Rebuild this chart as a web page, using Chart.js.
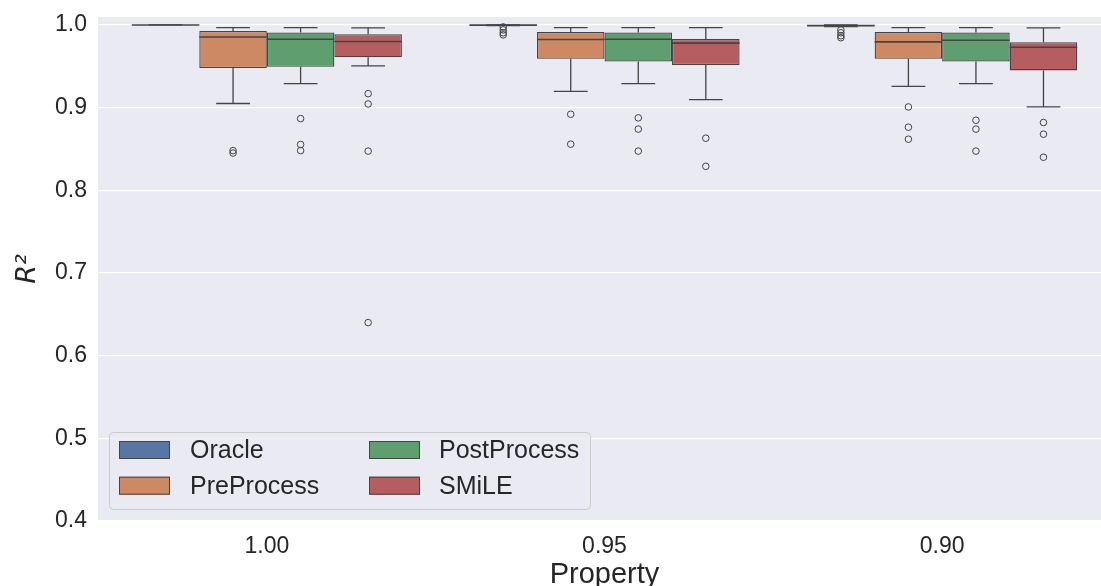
<!DOCTYPE html>
<html>
<head>
<meta charset="utf-8">
<script src="https://cdn.jsdelivr.net/npm/chart.js@4.4.0/dist/chart.umd.min.js"></script>
<style>
  html, body { margin: 0; padding: 0; background: #fff; overflow: hidden; }
  .wrap { width: 1112px; height: 586px; position: relative; }
</style>
</head>
<body>
<div class="wrap"><canvas id="chart"></canvas></div>
<script>
const properties = ['1.00', '0.95', '0.90'];
const methods = ['Oracle', 'PreProcess', 'PostProcess', 'SMiLE'];
const boxColors = ['#5875a4', '#cc8963', '#5f9e6e', '#b55d60'];

// [lower whisker, q1, median, q3, upper whisker] for each property
const oracleStats = [[1.0, 1.0, 1.0, 1.0, 1.0], [0.9992, 0.9996, 0.9998, 1.0, 1.0], [0.998, 0.9985, 0.9992, 0.9997, 1.0]];
const preStats = [[0.905, 0.948, 0.9855, 0.9928, 0.9968], [0.9197, 0.959, 0.9823, 0.9916, 0.9968], [0.9257, 0.959, 0.9795, 0.9916, 0.9968]];
const postStats = [[0.929, 0.9494, 0.9827, 0.991, 0.9968], [0.929, 0.9558, 0.9827, 0.991, 0.9968], [0.929, 0.9558, 0.9815, 0.991, 0.9968]];
const smileStats = [[0.9506, 0.961, 0.980, 0.9888, 0.9964], [0.9096, 0.9514, 0.978, 0.9831, 0.9968], [0.9008, 0.945, 0.9731, 0.979, 0.9964]];

// outliers for each property
const oracleOut = [[], [0.9976, 0.994, 0.9905, 0.988], [0.994, 0.9905, 0.987, 0.9845]];
const preOut = [[0.848, 0.845], [0.892, 0.8558], [0.9008, 0.8763, 0.8618]];
const postOut = [[0.8867, 0.8554, 0.848], [0.8876, 0.874, 0.8474], [0.8847, 0.874, 0.8474]];
const smileOut = [[0.9169, 0.9044, 0.8474, 0.640], [0.863, 0.829], [0.882, 0.8679, 0.840]];

const yTicks = [0.4, 0.5, 0.6, 0.7, 0.8, 0.9, 1.0];

const lineColor = '#444444';
const textColor = '#262626';

const allStats = [oracleStats, preStats, postStats, smileStats];
const allOut = [oracleOut, preOut, postOut, smileOut];

const datasets = methods.map((m, k) => ({
  label: m,
  data: allStats[k].map(s => [s[1], s[3]]),
  stats: allStats[k],
  outliers: allOut[k],
  backgroundColor: boxColors[k],
  borderColor: lineColor,
  borderWidth: 1.3,
  borderSkipped: false,
  categoryPercentage: 0.8,
  barPercentage: 1.0
}));

/* background, whiskers, medians, outliers, legend */
const boxPlotParts = {
  id: 'boxPlotParts',
  beforeDraw(chart) {
    const { ctx, chartArea: a } = chart;
    ctx.save();
    ctx.fillStyle = '#eaeaf2';
    ctx.fillRect(a.left, a.top, a.right - a.left, a.bottom - a.top);
    ctx.restore();
  },
  afterDatasetsDraw(chart) {
    const { ctx } = chart;
    const y = chart.scales.y;
    ctx.save();
    ctx.strokeStyle = lineColor;
    ctx.lineWidth = 1.3;
    chart.data.datasets.forEach((ds, d) => {
      const meta = chart.getDatasetMeta(d);
      meta.data.forEach((bar, i) => {
        const { x, width } = bar.getProps(['x', 'width'], true);
        const [lo, q1, med, q3, hi] = ds.stats[i];
        const pLo = y.getPixelForValue(lo), pQ1 = y.getPixelForValue(q1);
        const pMed = y.getPixelForValue(med), pQ3 = y.getPixelForValue(q3);
        const pHi = y.getPixelForValue(hi);
        const cap = width / 4;
        ctx.beginPath();
        ctx.moveTo(x, pQ1); ctx.lineTo(x, pLo);
        ctx.moveTo(x - cap, pLo); ctx.lineTo(x + cap, pLo);
        ctx.moveTo(x, pQ3); ctx.lineTo(x, pHi);
        ctx.moveTo(x - cap, pHi); ctx.lineTo(x + cap, pHi);
        ctx.stroke();
        ctx.beginPath();
        ctx.lineWidth = 1.6;
        ctx.moveTo(x - width / 2, pMed); ctx.lineTo(x + width / 2, pMed);
        ctx.stroke();
        ctx.lineWidth = 1;
        ds.outliers[i].forEach(v => {
          ctx.beginPath();
          ctx.arc(x, y.getPixelForValue(v), 3.3, 0, Math.PI * 2);
          ctx.stroke();
        });
        ctx.lineWidth = 1.3;
      });
    });
    ctx.restore();
  },
  afterDraw(chart) {
    const { ctx } = chart;
    ctx.save();
    ctx.beginPath();
    ctx.roundRect(109.5, 432.5, 481, 77, 4);
    ctx.fillStyle = 'rgba(234,234,242,0.8)';
    ctx.fill();
    ctx.strokeStyle = '#cccccc';
    ctx.lineWidth = 1;
    ctx.stroke();
    ctx.font = '25px "Liberation Sans", Arial, sans-serif';
    ctx.textBaseline = 'middle';
    chart.data.datasets.forEach((ds, k) => {
      const col = Math.floor(k / 2), row = k % 2;
      const sx = 119 + col * 250, cy = 450 + row * 35.7;
      ctx.fillStyle = ds.backgroundColor;
      ctx.fillRect(sx, cy - 9, 51, 18);
      ctx.strokeStyle = lineColor;
      ctx.strokeRect(sx + 0.5, cy - 8.5, 50, 17);
      ctx.fillStyle = textColor;
      ctx.fillText(ds.label, 190 + col * 249, cy + 1);
    });
    ctx.restore();
  }
};

new Chart(document.getElementById('chart'), {
  type: 'bar',
  data: { labels: properties, datasets: datasets },
  plugins: [boxPlotParts],
  options: {
    responsive: true,
    maintainAspectRatio: false,
    animation: false,
    layout: { padding: { top: 17, right: 1, bottom: 0, left: 0 } },
    plugins: { legend: { display: false }, tooltip: { enabled: false } },
    scales: {
      x: {
        type: 'category',
        grid: { display: false },
        border: { display: false },
        ticks: { color: textColor, padding: 4, font: { family: '"Liberation Sans", Arial, sans-serif', size: 23 } },
        title: {
          display: true, text: 'Property', color: textColor,
          padding: { top: 0, bottom: -6 },
          font: { family: '"Liberation Sans", Arial, sans-serif', size: 29 }
        },
        afterFit: s => { s.height = 65; s.paddingLeft = 0; s.paddingRight = 0; }
      },
      y: {
        min: 0.4,
        max: 1.0096,
        afterBuildTicks: s => { s.ticks = yTicks.map(v => ({ value: v })); },
        grid: { color: '#ffffff', lineWidth: 1.3, drawTicks: false },
        border: { display: false },
        ticks: {
          color: textColor, padding: 11,
          font: { family: '"Liberation Sans", Arial, sans-serif', size: 23 },
          callback: v => v.toFixed(1)
        },
        title: {
          display: true, text: 'R²', color: textColor,
          padding: { top: 12, bottom: 0 },
          font: { family: '"DejaVu Sans", sans-serif', size: 27, style: 'italic' }
        },
        afterFit: s => { s.width = 98; s.paddingTop = 0; s.paddingBottom = 0; }
      }
    }
  }
});
</script>
</body>
</html>
